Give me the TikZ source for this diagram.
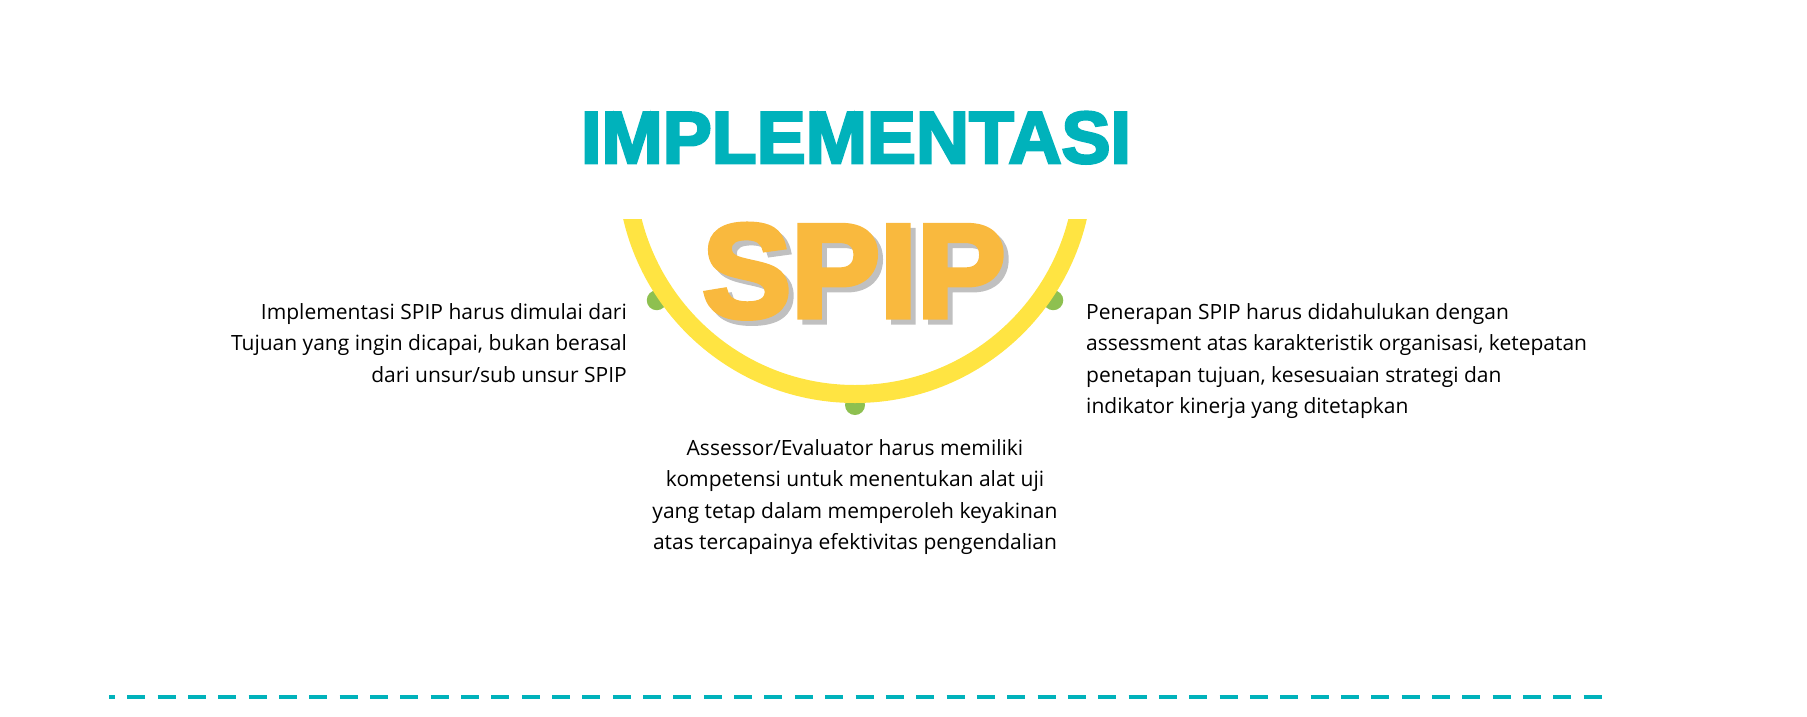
\documentclass[tikz,border=0pt]{standalone}
\usepackage{fontspec}
\setmainfont{Open Sans}
\newfontfamily\hurufjudul{Liberation Sans Bold}[FakeBold=3.5]
\newfontfamily\huruflogo{Liberation Sans Bold}[FakeBold=4]
\definecolor{tosca}{RGB}{0,178,187}
\definecolor{kuning}{RGB}{255,228,66}
\definecolor{jingga}{RGB}{249,185,62}
\definecolor{hijau}{RGB}{142,192,80}
\definecolor{bayangan}{RGB}{192,192,192}
\begin{document}
\begin{tikzpicture}[x=1pt,y=-1pt]
	% Styles
	\tikzstyle{judul}=[font=\hurufjudul\fontsize{73.5}{80}\selectfont,text=tosca,inner sep=0pt,anchor=base]
	\tikzstyle{logo}=[font=\huruflogo\fontsize{133}{140}\selectfont,inner sep=0pt,anchor=base]
	\tikzstyle{teks}=[font=\fontsize{21}{31.5}\selectfont,text=black,inner sep=0pt]
	\tikzstyle{titik}=[circle,fill=hijau,minimum size=20pt,inner sep=0pt]
	\tikzstyle{busur}=[draw=kuning,line width=18pt]
	\tikzstyle{garis}=[draw=tosca,line width=4pt,dash pattern=on 18pt off 12.34pt,dash phase=12pt]
	% Dimensions
	\def\PusatX{855}
	\def\PusatY{165}
	\def\JariBusur{229}
	\def\JariTitik{240}
	\def\BatasAtas{219}
	\def\SudutTitik{34.3}
	\def\Baris{31.5}
	\useasboundingbox (0,0) rectangle (1807,716);
	% Titik hijau
	\node[titik] (titikKiri) at ({\PusatX+\JariTitik*cos(180-\SudutTitik)},{\PusatY+\JariTitik*sin(180-\SudutTitik)}) {};
	\node[titik] (titikKanan) at ({\PusatX+\JariTitik*cos(\SudutTitik)},{\PusatY+\JariTitik*sin(\SudutTitik)}) {};
	\node[titik] (titikBawah) at ({\PusatX},{\PusatY+\JariTitik}) {};
	% Busur
	\begin{scope}
		\clip (0,\BatasAtas) rectangle (1807,716);
		\draw[busur] ({\PusatX+\JariBusur},{\PusatY}) arc[start angle=0,end angle=180,radius=\JariBusur];
	\end{scope}
	% Judul
	\node[judul] (judul) at (856,163) {IMPLEMENTASI};
	\node[logo,text=bayangan] (spipBayang) at (859,322) {SPIP};
	\node[logo,text=jingga] (spip) at (854,317) {SPIP};
	% Teks (base = baris terakhir)
	\node[teks,align=right,anchor=base east] (teksKiri) at (627,{319+2*\Baris}) {Implementasi SPIP harus dimulai dari\\Tujuan yang ingin dicapai, bukan berasal\\dari unsur/sub unsur SPIP};
	\node[teks,align=left,anchor=base west] (teksKanan) at (1086,{319+3*\Baris}) {Penerapan SPIP harus didahulukan dengan\\assessment atas karakteristik organisasi, ketepatan\\penetapan tujuan, kesesuaian strategi dan\\indikator kinerja yang ditetapkan};
	\node[teks,align=center,anchor=base] (teksBawah) at (855,{455+3*\Baris}) {Assessor/Evaluator harus memiliki\\kompetensi untuk menentukan alat uji\\yang tetap dalam memperoleh keyakinan\\atas tercapainya efektivitas pengendalian};
	% Garis putus-putus
	\coordinate (garisAwal) at (109,697);
	\coordinate (garisAkhir) at (1602,697);
	\draw[garis] (garisAwal) -- (garisAkhir);
\end{tikzpicture}
\end{document}
